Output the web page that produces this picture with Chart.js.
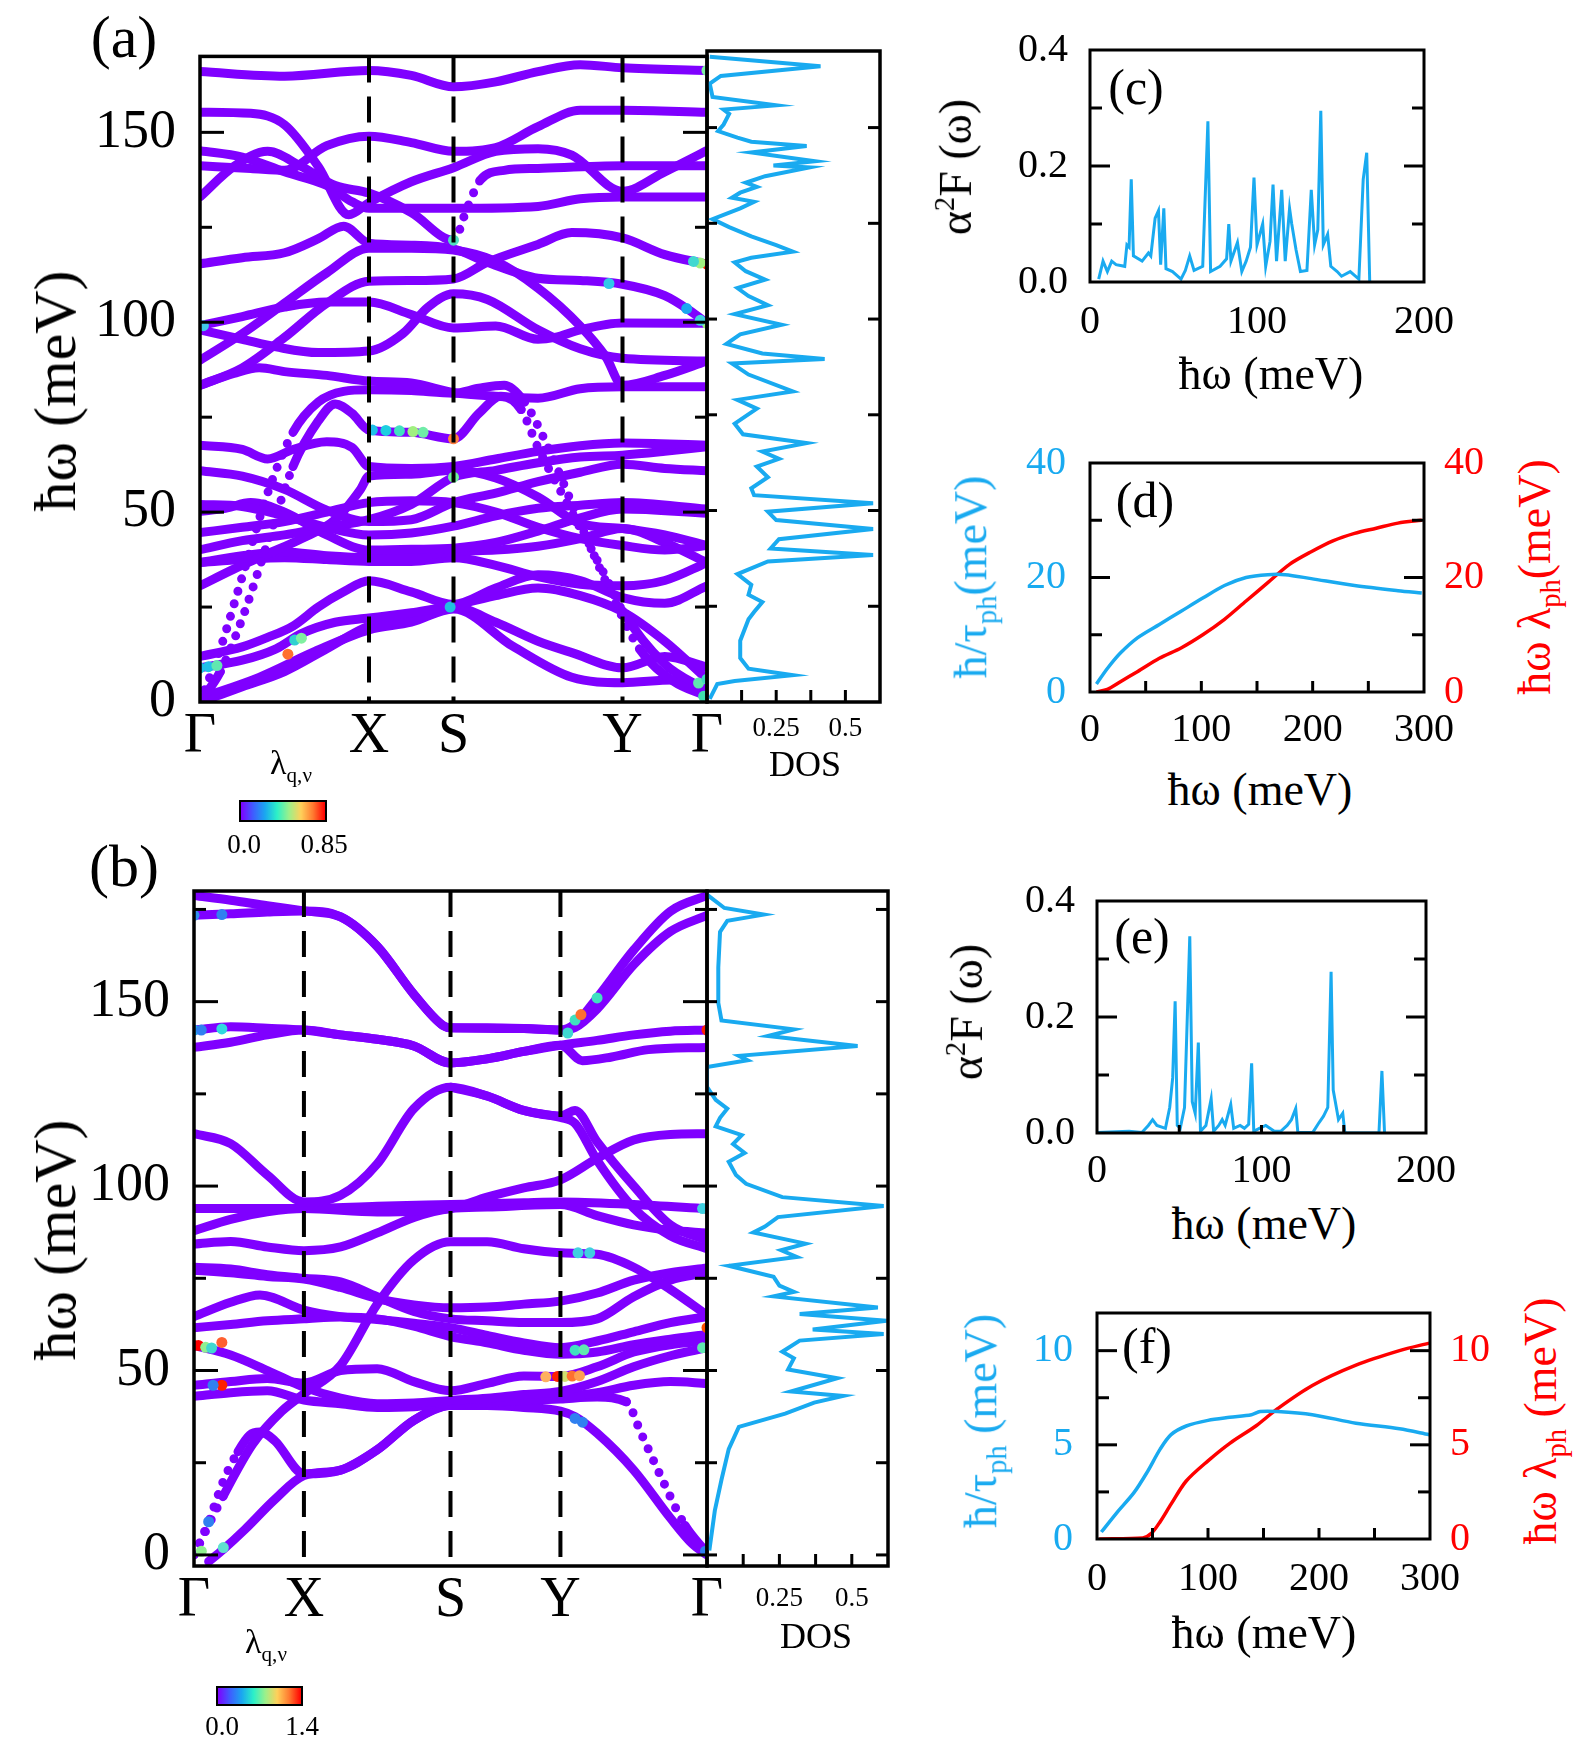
<!DOCTYPE html>
<html>
<head>
<meta charset="utf-8">
<script src="https://cdn.jsdelivr.net/npm/chart.js@4.4.1/dist/chart.umd.min.js"></script>
<style>
  body { margin: 0; width: 1576px; height: 1747px; background: #fff; position: relative; overflow: hidden;
         font-family: 'Liberation Serif', 'DejaVu Serif', serif; }
  .t { position: absolute; white-space: nowrap; line-height: 1; }
  .cb { position: absolute; border: 2px solid #000; box-sizing: border-box;
        background: linear-gradient(to right, #7f00ff, #3f5cff, #1aa7f0, #2cf0c8, #9cf08a, #ffd05a, #ff7a30, #ff0000); }
  sub { font-size: 62%; vertical-align: -0.35em; }
  sup { font-size: 62%; vertical-align: 0.6em; }
</style>
</head>
<body>
<script>
// ---- data ----
const kTicksA = [0, 1, 1.5, 2.5, 3];
const kTicksB = [0, 0.75, 1.75, 2.5, 3.5];
const kLabels = ['Γ', 'X', 'S', 'Y', 'Γ'];

// panel (a) phonon branches, [k, meV]
const bandsA = [
  [[0,166],[0.5,164.8],[1,166.3],[1.25,165],[1.5,162],[1.75,163.3],[2,166],[2.25,167.8],[2.5,167],[3,166.3]],
  [[0,155.3],[0.3,155],[0.5,152],[0.7,141],[0.88,128.3],[1,131.5],[1.25,137],[1.5,140.7],[1.75,145],[2,145.7],[2.2,144],[2.5,134.5],[2.75,139.6],[3,145.2]],
  [[0,141.2],[0.3,140.5],[0.5,140],[0.75,146.5],[1,149],[1.25,147.3],[1.5,145],[1.75,146],[2,151.5],[2.25,155.8],[2.5,155.8],[3,155.3]],
  [[0,133],[0.2,141],[0.4,145],[0.6,141],[0.8,136],[1,134],[1.25,128.9],[1.5,121.6],[1.58,130],[1.66,137.5],[1.8,140],[2,140.5],[2.5,141.2],[3,141.2]],
  [[0,145.2],[0.25,143.5],[0.5,139.6],[0.75,136],[0.9,131.7],[1,130],[1.5,130],[2,130.5],[2.25,132.5],[2.5,133],[3,133]],
  [[0,115.4],[0.25,117],[0.5,118.3],[0.7,122],[0.85,125.3],[1,120.8],[1.25,120.3],[1.5,119.3],[1.7,115.8],[2,111.6],[2.25,111],[2.5,110],[2.75,107],[2.9,103],[3,99.7]],
  [[0,83.4],[0.25,88],[0.5,96],[0.75,105],[1,110.8],[1.25,111],[1.5,111.4],[1.7,115.8],[2,120.5],[2.2,123.6],[2.5,122.2],[2.75,117.8],[3,115.3]],
  [[0,99.1],[0.25,101.5],[0.5,104],[0.75,105.3],[1,105.3],[1.25,102],[1.5,98.5],[1.75,99],[2,95.5],[2.1,96],[2.25,98],[2.5,99.8],[3,99.7]],
  [[0,98],[0.25,95.5],[0.45,93.5],[0.7,92],[1,92.4],[1.2,97],[1.35,104],[1.5,107.5],[1.7,106],[2,98],[2.25,93],[2.5,90.5],[3,89.8]],
  [[0,90],[0.25,97],[0.5,105],[0.75,113],[1,119.5],[1.25,119.5],[1.5,119],[1.75,116],[2,109],[2.25,99],[2.4,91],[2.5,83.4],[2.75,86],[3,89.8]],
  [[0,83.4],[0.2,86.5],[0.35,88],[0.5,87],[0.75,86],[1,84.5],[1.25,84],[1.5,81.5],[1.75,80.5],[2,80],[2.25,82.5],[2.5,83],[3,83]],
  [[0,0],[0.12,14],[0.25,33],[0.4,55],[0.55,71],[0.7,79],[0.85,81.8],[1,82.2],[1.25,82],[1.5,81.3],[1.65,82.6],[1.8,83.4],[1.92,79],[2.05,68],[2.25,47],[2.45,27],[2.6,14],[2.8,5.5],[3,1.5]],
  [[0,0],[0.12,8],[0.25,22],[0.4,42],[0.55,62],[0.7,74],[0.8,78.5],[0.9,76],[1,71.6],[1.25,71],[1.5,69.3],[1.65,76],[1.78,80.5],[1.9,77],[2,67],[2.2,50],[2.4,33],[2.5,24],[2.75,10],[3,3]],
  [[0,67.6],[0.25,66.5],[0.4,64],[0.55,66.5],[0.75,68.5],[0.9,67],[1,62],[1.25,61.5],[1.5,62],[1.75,64],[2,66],[2.25,67.5],[2.5,68.2],[3,67.6]],
  [[0,60.9],[0.25,59.5],[0.5,56],[0.75,50.5],[1,47.5],[1.25,48],[1.5,52.5],[1.75,55],[2,58],[2.25,60.5],[2.5,62.6],[2.75,61.5],[3,60.9]],
  [[0,52],[0.25,51.5],[0.5,49],[0.75,46],[1,44],[1.25,44.5],[1.5,46.3],[1.75,49],[2,51],[2.25,51.8],[2.5,52.5],[3,50.8]],
  [[0,50.2],[0.15,51],[0.3,52.5],[0.5,50],[0.75,44],[1,40],[1.25,40.2],[1.5,40.5],[1.75,42],[2,45],[2.25,48.5],[2.5,50.8],[3,49.7]],
  [[0,44.6],[0.25,46],[0.5,47.5],[0.75,50],[1,52.5],[1.25,53],[1.5,52.5],[1.75,50],[2,46],[2.25,43],[2.5,41.2],[2.75,40],[3,41.2]],
  [[0,40.1],[0.25,42.5],[0.5,44],[0.75,46],[1,48],[1.25,52],[1.5,59.2],[1.75,61],[2,63],[2.25,64.5],[2.5,65],[2.75,66],[3,67.2]],
  [[0,30.6],[0.2,35],[0.4,39],[0.6,43],[0.8,48],[0.95,56],[1,59.5],[1.25,60],[1.5,61],[1.75,59],[2,54],[2.25,47],[2.5,45.7],[2.75,44],[3,41.2]],
  [[0,36.7],[0.25,38.5],[0.5,39.5],[0.75,38.5],[1,38],[1.25,38.2],[1.5,39.6],[1.75,40],[2,41],[2.25,43],[2.5,45.7],[2.75,42],[3,36.7]],
  [[0,36.7],[0.25,37.5],[0.5,38],[0.75,37.5],[1,37],[1.25,37],[1.5,38],[1.75,36],[2,33],[2.25,31],[2.5,30.6],[2.75,32],[3,36.7]],
  [[0,12],[0.25,14.5],[0.4,17],[0.55,20],[0.7,25],[0.85,29],[1,31.9],[1.25,29],[1.5,25.7],[1.75,30],[2,33.5],[2.25,32],[2.5,27.5],[2.75,26],[3,30.6]],
  [[0,9],[0.25,11],[0.45,14],[0.6,18],[0.8,21],[1,22.1],[1.25,23.5],[1.5,25],[1.75,21],[2,16],[2.2,13],[2.5,9],[2.75,12],[3,9.2]],
  [[0,1],[0.35,6.5],[0.68,13.3],[1,19],[1.25,21],[1.5,24.5],[1.85,14.7],[2.2,6.5],[2.5,5.1],[2.8,5.8],[3,2]],
  [[0,0],[0.25,4],[0.5,8],[0.75,14],[1,20],[1.25,22.5],[1.5,25.3],[1.75,28],[2,30],[2.25,28],[2.5,23.8],[2.75,16],[3,6]]
];
// coloured (large lambda) spots on (a): [k, meV, colour]
const spotsA = [
  [1.02,71.6,'#1fc0e8'],[1.1,71.5,'#1ccfe0'],[1.18,71.4,'#40e0c0'],[1.26,71.2,'#a0f080'],[1.32,71,'#70eca8'],
  [1.5,69.3,'#ff8040'],[1.5,121.6,'#50e0c0'],[1.5,59.2,'#70f0a0'],[1.48,25,'#20c0e0'],
  [0.52,12.6,'#ff7030'],[0.56,16.3,'#30d0d0'],[0.6,16.8,'#80f0a0'],
  [0,9,'#20c0e8'],[0.05,9.3,'#20c0e8'],[0.1,9.6,'#60e8b0'],
  [2.95,5,'#60e8b0'],[3,6,'#40d8c0'],[2.98,1.5,'#40e0b0'],
  [3,115.3,'#ff2000'],[2.96,115.6,'#a0f080'],[2.92,116,'#40d8d0'],
  [3,99.7,'#a0f080'],[2.96,100.5,'#40d0e0'],[2.88,103.6,'#1aa7f0'],[2.42,110.2,'#30c8e8'],[3,166.3,'#80f0a0'],[0.02,99.1,'#40c8e8']
];

// panel (b) phonon branches, [k, meV]
const bandsB = [
  [[0,178.8],[0.25,177.5],[0.5,176],[0.75,174.6],[1,173],[1.25,165],[1.5,152],[1.7,143.5],[1.75,142.9],[2,142.9],[2.25,142.7],[2.5,142.3],[2.6,144],[2.75,151],[3,164],[3.25,174.5],[3.5,178.8]],
  [[0,173.4],[0.25,173.8],[0.5,174.3],[0.75,174.6],[1,173],[1.25,165],[1.5,152],[1.7,143.5],[1.75,142.9],[2.25,142.7],[2.5,142.3],[2.6,143],[2.75,148],[3,160],[3.25,169],[3.5,173.4]],
  [[0,142.3],[0.25,143.2],[0.5,142.8],[0.75,142.3],[1,141],[1.25,139.8],[1.5,138],[1.75,133.4],[2,134.5],[2.25,136.5],[2.5,138.2],[2.75,139.5],[3,141],[3.25,142],[3.5,142.3]],
  [[0,137.6],[0.25,139],[0.5,141],[0.75,142.3],[1,141],[1.25,139.8],[1.5,138],[1.75,133.4],[2,134.5],[2.25,136.5],[2.5,138.2],[2.65,134],[2.85,135],[3.1,137],[3.5,137.6]],
  [[0,114.2],[0.25,111.5],[0.5,103],[0.75,95.7],[1,97.5],[1.25,106],[1.5,121],[1.75,126.8],[2,124.4],[2.25,120.5],[2.5,119],[2.6,120.5],[2.75,112],[3,100],[3.25,89.5],[3.5,85.3]],
  [[1.75,126.8],[2,124.4],[2.25,120.5],[2.5,118.6],[2.6,117],[2.75,107],[3,94],[3.25,86.5],[3.5,83]],
  [[0,93.9],[0.75,93.9],[1.25,94.5],[1.75,95],[2.25,95.5],[2.5,95.7],[3,95],[3.5,93.9]],
  [[0,87.9],[0.25,91],[0.5,93],[0.75,93.9],[1.25,93],[1.75,94],[2,97],[2.25,99.5],[2.5,101.7],[2.75,107.5],[3,112.5],[3.25,114],[3.5,114.2]],
  [[0,84.3],[0.25,85],[0.5,83.5],[0.75,82.5],[1,83.5],[1.25,87.3],[1.5,91.5],[1.75,93.9],[2,94.3],[2.5,95],[2.75,92],[3,89.5],[3.25,88],[3.5,87.3]],
  [[0,0],[0.2,16],[0.4,30],[0.6,39],[0.75,43.7],[1,51.4],[1.25,68],[1.5,80],[1.75,84.9],[2,84.9],[2.25,83],[2.5,81.9],[2.75,81.5],[3,78],[3.25,72],[3.5,65]],
  [[0,77.2],[0.25,76.5],[0.5,75.5],[0.75,74.8],[1,72.5],[1.25,69.5],[1.5,67.8],[1.75,67],[2,67.2],[2.25,68],[2.5,68.8],[2.75,71],[3,74.5],[3.25,76.5],[3.5,77.8]],
  [[0,78],[0.25,77.5],[0.5,76],[0.75,75],[1,74],[1.25,70],[1.5,66],[1.75,64],[2,63.5],[2.25,63],[2.5,63],[2.75,64],[3,70],[3.25,74.5],[3.5,76.5]],
  [[0,64.6],[0.25,68.5],[0.45,70.5],[0.75,66.4],[1,64.6],[1.25,63.8],[1.5,62.8],[1.75,61.6],[2,59.5],[2.25,57.5],[2.5,56.2],[2.75,58],[3,60.5],[3.25,63],[3.5,64.6]],
  [[0,61.6],[0.25,62.5],[0.5,63.5],[0.75,64],[1,64.5],[1.25,64],[1.5,62],[1.75,59.2],[2,57.5],[2.25,55.5],[2.5,54.4],[2.75,55],[3,57],[3.25,58.5],[3.5,59.8]],
  [[0,56.8],[0.25,54.2],[0.5,50],[0.75,45.5],[1,42.5],[1.25,41],[1.5,41.2],[1.75,41.9],[2,42.5],[2.25,43.5],[2.5,44.3],[2.75,47],[3,51],[3.25,54],[3.5,56.2]],
  [[0,46],[0.25,47],[0.5,47.8],[0.75,46.6],[1,50],[1.25,50.5],[1.5,47],[1.75,44.5],[2,46.5],[2.25,48.5],[2.5,48.4],[2.75,51],[3,55],[3.25,57],[3.5,58]],
  [[0,43],[0.25,44],[0.5,44.5],[0.75,42],[1,41],[1.25,40],[1.5,40.2],[1.75,41.5],[2,41.5],[2.25,42],[2.5,42.8],[2.75,44],[3,46],[3.25,47],[3.5,46.5]],
  [[0,0],[0.1,9],[0.2,20],[0.3,28],[0.38,32.5],[0.45,33.3],[0.55,31],[0.75,22],[1,23],[1.25,28.5],[1.5,36.5],[1.75,40.7],[2,41.2],[2.25,41.8],[2.5,42.3],[2.75,42.8],[2.95,41.5],[3.05,33],[3.2,20],[3.35,8],[3.5,0.5]],
  [[0.1,-1.8],[0.2,1.5],[0.35,7],[0.55,15],[0.75,21.5],[1,23],[1.25,28.5],[1.5,36.5],[1.75,40.5],[2,40.5],[2.25,40],[2.5,39],[2.6,37.5],[2.75,33],[3,23],[3.25,10],[3.4,3],[3.5,0]]
];
const spotsB = [
  [0,56.8,'#ff0000'],[0.03,56.8,'#ff0000'],[0.08,56.3,'#90f090'],[0.12,56.1,'#40d8d0'],[0.19,57.6,'#ff6030'],
  [0.19,46,'#ff2000'],[0.13,46,'#3080f0'],[0,142.3,'#20b0f0'],[0.05,142.3,'#3080f0'],[0.19,142.6,'#30d8e0'],
  [0,173.4,'#3090f0'],[0.19,173.6,'#3080f0'],
  [2.4,48.3,'#ffb060'],[2.48,48.4,'#ff2000'],[2.53,48.4,'#d0e070'],[2.58,48.5,'#ff7030'],[2.63,48.6,'#ffa050'],
  [2.6,145,'#40e0c0'],[2.64,146.5,'#ff7030'],[2.75,151,'#40e0c0'],[2.55,141.5,'#40d8d0'],
  [3.5,142.3,'#ff2000'],[3.5,93.9,'#ff2000'],[3.47,93.9,'#40d0e0'],[3.5,61.6,'#ff5000'],[3.5,56.2,'#ff2000'],[3.47,56.2,'#60e8b0'],
  [2.6,55.5,'#40e0c0'],[2.66,55.6,'#60e8b0'],[2.62,81.9,'#40d0e0'],[2.7,81.9,'#40d0e0'],
  [0.05,1,'#90f090'],[0.2,2,'#60e0d0'],[3.49,1,'#3080f0'],[0.1,9,'#3080f0'],[2.6,37,'#3080f0'],[2.65,36,'#3080f0']
];

// phonon DOS, energy (meV) and DOS value
const dosAE = [168.5,166,163.5,161.5,158,155.8,154.7,153.6,150.8,149.1,147.4,146.3,145.2,143.5,141.2,140.1,139.6,137.3,135.6,134.5,133,131.7,130.6,128.9,126.1,124,121.6,119.3,117.6,116,114.8,112.5,110.3,108.1,106,103.6,101.3,98.5,96,93.5,91,89.6,88.4,85.5,81.1,78.9,76.6,72.7,69.9,67.6,65.4,63.5,61.5,58.7,55.8,54,51.9,49.7,47.5,45.2,42.5,40.1,38.4,36.7,33.4,30.6,28,26.1,23.5,21.6,16,11.5,8.7,7,5.5,4.7,0.8];
const dosAV = [0.01,0.41,0.05,0.01,0.02,0.25,0.06,0.08,0.06,0.04,0.11,0.16,0.36,0.16,0.39,0.24,0.37,0.21,0.14,0.18,0.12,0.09,0.17,0.12,0.02,0.08,0.16,0.25,0.31,0.16,0.1,0.14,0.21,0.11,0.15,0.22,0.1,0.27,0.12,0.07,0.2,0.425,0.09,0.15,0.31,0.11,0.18,0.1,0.13,0.36,0.2,0.26,0.18,0.22,0.16,0.17,0.6,0.22,0.25,0.6,0.26,0.23,0.6,0.22,0.11,0.16,0.15,0.2,0.17,0.15,0.12,0.12,0.15,0.31,0.1,0.037,0.01];
const dosBE = [179,175.4,173.6,171.9,168.9,159.3,149.7,144.9,142.5,140.7,138,135.3,134.1,132.3,126.9,123.4,121,118.5,116.2,113.8,111.4,109,106.6,103,100.6,97,94.6,91.6,89,87.4,84.4,82.6,80.8,78.4,75.4,73,71.3,70.1,67.1,65.3,63.5,61.1,59.9,58.1,55.1,53.3,50.3,47.9,44.3,43.1,41.3,38.3,34.7,28.7,20.4,12,1.2];
const dosBV = [0,0.06,0.196,0.07,0.045,0.039,0.039,0.05,0.3,0.21,0.52,0.11,0.14,0,0,0.03,0.07,0.045,0.03,0.12,0.09,0.13,0.075,0.1,0.135,0.26,0.61,0.245,0.2,0.16,0.34,0.256,0.31,0.075,0.23,0.25,0.3,0.23,0.59,0.32,0.62,0.365,0.61,0.32,0.26,0.3,0.28,0.45,0.29,0.47,0.37,0.27,0.11,0.075,0.05,0.027,0.008];

// Eliashberg functions (c) and (e)
const cOmega = [5.2,7.8,10.4,13,15.6,20.8,22.1,23.4,24.7,26,31.2,35,36.4,39,41,42.3,44.2,45.5,49.4,54.5,57.1,59.7,62.3,67.5,70.6,72.2,77.9,81.8,83.1,84.4,88.3,90.9,93.5,96.1,98.2,100,103.4,105.2,107.8,109.6,111.7,114.8,116.9,119.5,120.8,123.4,126,129.9,132.5,134.5,136.4,138.2,139.7,142.3,144.2,148,150.6,155.8,161,163.6,165.7,167.5];
const cA2F = [0.005,0.036,0.018,0.036,0.03,0.027,0.064,0.06,0.177,0.045,0.036,0.05,0.045,0.11,0.123,0.03,0.127,0.023,0.018,0.005,0.02,0.045,0.02,0.027,0.277,0.018,0.027,0.04,0.1,0.036,0.068,0.018,0.036,0.06,0.18,0.064,0.1,0.027,0.07,0.168,0.036,0.159,0.036,0.127,0.1,0.055,0.018,0.02,0.159,0.064,0.09,0.295,0.064,0.082,0.027,0.018,0.01,0.018,0.005,0.177,0.223,0];
const eOmega = [0,19.5,27.3,31.2,33.8,36.4,41.6,44.2,46,47.5,48.8,50.6,53.2,56.4,57.9,59.7,61.6,62.9,66.2,69.4,70.9,74,76.1,77.9,81.3,83.1,87,89.6,92.2,94,95.3,98.7,102.6,107.8,111.7,115.6,118.2,120.8,122.1,131.2,135,137.7,140.3,142.3,143.6,145.5,146.8,149.4,150.6,151.4,171.4,173.2,174.8];
const eA2F = [0.001,0.003,0.001,0.013,0.023,0.013,0.008,0.044,0.095,0.227,0.013,0.008,0.044,0.339,0.054,0.034,0.156,0.003,0.013,0.059,0.003,0.013,0.023,0.013,0.049,0.008,0.013,0.008,0.015,0.12,0.003,0.008,0.013,0.003,0.003,0.013,0.023,0.042,0.001,0.001,0.018,0.029,0.044,0.278,0.074,0.044,0.023,0.034,0.002,0,0,0.107,0];

// scattering rates (d) and (f)
const dOmegaTau = [5.8,15.6,27.3,42.9,62.3,81.8,101.3,120.8,140.2,159.7,175.3,198.7,237.6,276.6,298];
const dTau = [1.4,4.1,6.8,9.5,11.8,14.1,16.4,18.6,20,20.5,20.5,19.8,18.6,17.7,17.3];
const dOmegaLam = [5.8,15.6,27.3,42.9,62.3,81.8,101.3,120.8,140.2,159.7,179.2,198.7,218.2,237.6,257.1,276.6,298];
const dLam = [0,0.45,1.8,3.6,5.9,7.7,10,12.7,15.9,19.1,22.3,24.5,26.4,27.7,28.6,29.5,30];
const fOmegaTau = [3.9,17.6,33.3,45.1,56.9,66.7,80.4,100,119.6,139.2,147,162.7,194,233.3,272.5,299.2];
const fTau = [0.37,1.38,2.46,3.54,4.77,5.54,6,6.3,6.46,6.6,6.77,6.77,6.6,6.15,5.85,5.54];
const fOmegaLam = [2,41.2,49,56.9,66.7,80.4,100,119.6,143.1,162.7,194,233.3,272.5,299.2];
const fLam = [0,0.06,0.3,0.92,1.85,3.08,4.15,5.08,6,6.92,8.15,9.23,10,10.4];

// ---- drawing ----
const FONT = "'Liberation Serif', 'DejaVu Serif', serif";
const PURPLE = '#7f00ff';
const BLUE = '#19aaf0';
const RED = '#ff0000';
Chart.defaults.font.family = FONT;
Chart.defaults.color = '#000';

// frame, inward ticks and dashed high-symmetry lines
Chart.register({
  id: 'deco',
  afterDatasetsDraw(chart, args, o) {
    const ctx = chart.ctx, a = chart.chartArea;
    ctx.save();
    ctx.strokeStyle = '#000';
    if (o.vlines) {
      ctx.lineWidth = 4;
      ctx.setLineDash([26, 14]);
      o.vlines.forEach(k => {
        const x = chart.scales.x.getPixelForValue(k);
        ctx.beginPath(); ctx.moveTo(x, a.top); ctx.lineTo(x, a.bottom); ctx.stroke();
      });
      ctx.setLineDash([]);
    }
    ctx.lineWidth = 3;
    (o.ticks || []).forEach(t => {
      const s = chart.scales[t.scale];
      t.values.forEach(v => {
        const p = s.getPixelForValue(v);
        ctx.beginPath();
        if (t.side === 'left') { ctx.moveTo(a.left, p); ctx.lineTo(a.left + t.len, p); }
        else if (t.side === 'right') { ctx.moveTo(a.right, p); ctx.lineTo(a.right - t.len, p); }
        else { ctx.moveTo(p, a.bottom); ctx.lineTo(p, a.bottom - t.len); }
        ctx.stroke();
      });
    });
    ctx.lineWidth = o.frame || 3.5;
    ctx.strokeRect(a.left, a.top, a.width, a.height);
    ctx.restore();
  }
});

function mkCanvas(left, top, w, h) {
  const c = document.createElement('canvas');
  c.width = w; c.height = h;
  c.style.cssText = `position:absolute;left:${left}px;top:${top}px;width:${w}px;height:${h}px`;
  document.body.appendChild(c);
  return c;
}

function txt(html, x, y, size, color, rot) {
  const d = document.createElement('div');
  d.className = 't';
  d.innerHTML = html;
  d.style.left = x + 'px';
  d.style.top = y + 'px';
  d.style.fontSize = size + 'px';
  d.style.color = color || '#000';
  d.style.transform = 'translate(-50%,-50%)' + (rot ? ' rotate(-90deg)' : '');
  document.body.appendChild(d);
}

function axis(o) {
  return {
    type: 'linear', position: o.pos, min: o.min, max: o.max, display: o.display !== false,
    afterBuildTicks: s => { s.ticks = o.ticks.map(v => ({ value: v })); },
    afterFit: s => { if (o.pos === 'left' || o.pos === 'right') s.width = o.size; else s.height = o.size; },
    grid: { display: false, drawTicks: false },
    border: { display: false },
    ticks: { autoSkip: false, maxRotation: 0, padding: o.pad, color: o.color || '#000',
             font: { family: FONT, size: o.font }, callback: o.cb }
  };
}

function steep(ctx) {
  const dx = Math.abs(ctx.p1.x - ctx.p0.x), dy = Math.abs(ctx.p1.y - ctx.p0.y);
  return dy > 1.8 * Math.max(dx, 0.001);
}

function bandSets(bands, spots) {
  const sets = bands.map(b => ({
    data: b.map(p => ({ x: p[0], y: p[1] })),
    borderColor: PURPLE, borderWidth: 9, pointRadius: 0,
    borderCapStyle: 'round', borderJoinStyle: 'round',
    cubicInterpolationMode: 'monotone',
    segment: { borderDash: ctx => steep(ctx) ? [0, 13] : undefined }
  }));
  // spots go on top of the branches (lower order is drawn last)
  sets.push({
    order: -1,
    data: spots.map(p => ({ x: p[0], y: p[1] })), showLine: false,
    pointRadius: 5.5, pointBorderWidth: 0, pointBackgroundColor: spots.map(p => p[2])
  });
  return sets;
}

function seq(a, b, st) { const r = []; for (let v = a; v <= b + 1e-9; v += st) r.push(+v.toFixed(4)); return r; }

function base(pad, scales, deco, datasets, type) {
  return {
    type: type || 'line',
    data: { datasets },
    options: {
      responsive: false, animation: false, events: [],
      layout: { padding: pad },
      plugins: { legend: { display: false }, tooltip: { enabled: false }, deco },
      scales
    }
  };
}

function bandChart(canvas, pad, bands, spots, kT, ymin, ymax, ywidth, xh, ticksAll) {
  const major = ticksAll.filter(v => v % 50 === 0), minor = ticksAll.filter(v => v % 50 !== 0);
  new Chart(canvas, base(pad, {
    x: axis({ pos: 'bottom', min: 0, max: kT[kT.length - 1], ticks: kT, size: xh, pad: 2, font: 56,
              cb: (v, i) => kLabels[i] }),
    y: axis({ pos: 'left', min: ymin, max: ymax, ticks: [0, 50, 100, 150], size: ywidth, pad: 24, font: 54 })
  }, {
    vlines: kT.slice(1, -1),
    ticks: [
      { scale: 'y', side: 'left', values: major, len: 24 }, { scale: 'y', side: 'left', values: minor, len: 12 },
      { scale: 'y', side: 'right', values: major, len: 24 }, { scale: 'y', side: 'right', values: minor, len: 12 }
    ]
  }, bandSets(bands, spots)));
}

function dosChart(canvas, pad, E, V, ymin, ymax, xh, lpad, ticksAll) {
  new Chart(canvas, base(pad, {
    x: axis({ pos: 'bottom', min: 0, max: 0.625, ticks: [0.25, 0.5], size: xh, pad: lpad, font: 27,
              cb: v => (v === 0.5 ? '0.5' : '0.25') }),
    y: axis({ pos: 'left', min: ymin, max: ymax, ticks: [], size: 0, display: false })
  }, {
    ticks: [
      { scale: 'y', side: 'left', values: ticksAll, len: 10 },
      { scale: 'y', side: 'right', values: ticksAll, len: 12 },
      { scale: 'x', side: 'bottom', values: [0.125, 0.25, 0.375, 0.5], len: 12 }
    ]
  }, [{
    data: E.map((e, i) => ({ x: V[i], y: e })), showLine: true,
    borderColor: BLUE, borderWidth: 4, pointRadius: 0, tension: 0
  }], 'scatter'));
}

// (a)
bandChart(mkCanvas(0, 0, 745, 808), { left: 0, top: 51, right: 38, bottom: 0 },
          bandsA, spotsA, kTicksA, 0, 170, 200, 106, seq(25, 150, 25));
dosChart(mkCanvas(700, 0, 204, 808), { left: 7, top: 51, right: 24, bottom: 0 },
         dosAE, dosAV, 0, 170, 106, 11, seq(25, 150, 25));
// (b)
bandChart(mkCanvas(0, 820, 745, 830), { left: 0, top: 71, right: 38, bottom: 0 },
          bandsB, spotsB, kTicksB, -3, 180, 194, 84, seq(0, 175, 25));
dosChart(mkCanvas(700, 820, 214, 830), { left: 7, top: 71, right: 26, bottom: 0 },
         dosBE, dosBV, -3, 180, 84, 17, seq(0, 175, 25));

function a2fChart(canvas, pad, W, A, yw, xh, lpad, xTicks) {
  new Chart(canvas, base(pad, {
    x: axis({ pos: 'bottom', min: 0, max: 200, ticks: [0, 100, 200], size: xh, pad: lpad, font: 40 }),
    y: axis({ pos: 'left', min: 0, max: 0.4, ticks: [0, 0.2, 0.4], size: yw, pad: 22, font: 40, cb: v => v.toFixed(1) })
  }, {
    frame: 3,
    ticks: [
      { scale: 'y', side: 'left', values: [0.2], len: 20 }, { scale: 'y', side: 'left', values: [0.1, 0.3], len: 12 },
      { scale: 'y', side: 'right', values: [0.2], len: 20 }, { scale: 'y', side: 'right', values: [0.1, 0.3], len: 12 },
      { scale: 'x', side: 'bottom', values: xTicks, len: 8 }
    ]
  }, [{
    data: W.map((w, i) => ({ x: w, y: A[i] })), showLine: true,
    borderColor: BLUE, borderWidth: 3, pointRadius: 0, tension: 0
  }], 'scatter'));
}

function rateChart(canvas, pad, Wt, T, Wl, L, ymax, yTicks, major, minor, yw, rw, xh, lpad) {
  new Chart(canvas, base(pad, {
    x: axis({ pos: 'bottom', min: 0, max: 300, ticks: [0, 100, 200, 300], size: xh, pad: lpad, font: 40 }),
    yL: axis({ pos: 'left', min: 0, max: ymax, ticks: yTicks, size: yw, pad: 24, font: 40, color: BLUE }),
    yR: axis({ pos: 'right', min: 0, max: ymax, ticks: yTicks, size: rw, pad: 20, font: 40, color: RED })
  }, {
    frame: 3,
    ticks: [
      { scale: 'yL', side: 'left', values: major, len: 20 }, { scale: 'yL', side: 'left', values: minor, len: 12 },
      { scale: 'yL', side: 'right', values: major, len: 20 }, { scale: 'yL', side: 'right', values: minor, len: 12 },
      { scale: 'x', side: 'bottom', values: [50, 100, 150, 200, 250], len: 11 }
    ]
  }, [
    { data: Wt.map((w, i) => ({ x: w, y: T[i] })), yAxisID: 'yL', showLine: true,
      borderColor: BLUE, borderWidth: 3.5, pointRadius: 0, tension: 0.3 },
    { data: Wl.map((w, i) => ({ x: w, y: L[i] })), yAxisID: 'yR', showLine: true,
      borderColor: RED, borderWidth: 3.5, pointRadius: 0, tension: 0.3 }
  ], 'scatter'));
}

// (c) (d) (e) (f)
a2fChart(mkCanvas(960, 0, 510, 362), { left: 0, top: 50, right: 46, bottom: 0 }, cOmega, cA2F, 130, 80, 16, []);
rateChart(mkCanvas(960, 415, 545, 345), { left: 0, top: 38, right: 0, bottom: 0 },
          dOmegaTau, dTau, dOmegaLam, dLam, 40, [0, 20, 40], [20], [10, 30], 130, 81, 68, 14);
a2fChart(mkCanvas(960, 855, 510, 340), { left: 0, top: 38, right: 40, bottom: 0 }, eOmega, eA2F, 137, 62, 14, [50, 100, 150]);
rateChart(mkCanvas(960, 1265, 545, 345), { left: 0, top: 33, right: 0, bottom: 0 },
          fOmegaTau, fTau, fOmegaLam, fLam, 12, [0, 5, 10], [5, 10], [2.5, 7.5], 137, 75, 71, 16);

// ---- text ----
txt('(a)', 124, 37, 60);
txt('(b)', 124, 866, 60);
txt('ħω (meV)', 55, 391, 60, '#000', true);
txt('ħω (meV)', 55, 1240, 60, '#000', true);
txt('DOS', 805, 764, 36);
txt('DOS', 816, 1636, 36);
txt('λ<sub>q,ν</sub>', 291, 766, 34);
txt('λ<sub>q,ν</sub>', 266, 1645, 34);
txt('0.0', 244, 844, 27);
txt('0.85', 324, 844, 27);
txt('0.0', 222, 1726, 27);
txt('1.4', 302, 1726, 27);

txt('(c)', 1136, 87, 50);
txt('α<sup>2</sup>F (ω)', 955, 167, 46, '#000', true);
txt('ħω (meV)', 1271, 374, 46);
txt('(d)', 1145, 500, 50);
txt('ħω (meV)', 1260, 790, 46);
txt('ħ/τ<sub>ph</sub>(meV)', 975, 577, 46, BLUE, true);
txt('ħω λ<sub>ph</sub>(meV)', 1539, 577, 46, RED, true);
txt('(e)', 1142, 936, 50);
txt('ħω (meV)', 1264, 1224, 46);
txt('α<sup>2</sup>F (ω)', 966, 1012, 46, '#000', true);
txt('(f)', 1147, 1346, 50);
txt('ħω (meV)', 1264, 1633, 46);
txt('ħ/τ<sub>ph</sub> (meV)', 985, 1421, 46, BLUE, true);
txt('ħω λ<sub>ph</sub> (meV)', 1545, 1421, 46, RED, true);

// colour bars
[[239, 800, 88, 22], [216, 1686, 87, 20]].forEach(b => {
  const d = document.createElement('div');
  d.className = 'cb';
  d.style.cssText += `left:${b[0]}px;top:${b[1]}px;width:${b[2]}px;height:${b[3]}px`;
  document.body.appendChild(d);
});
</script>
</body>
</html>
